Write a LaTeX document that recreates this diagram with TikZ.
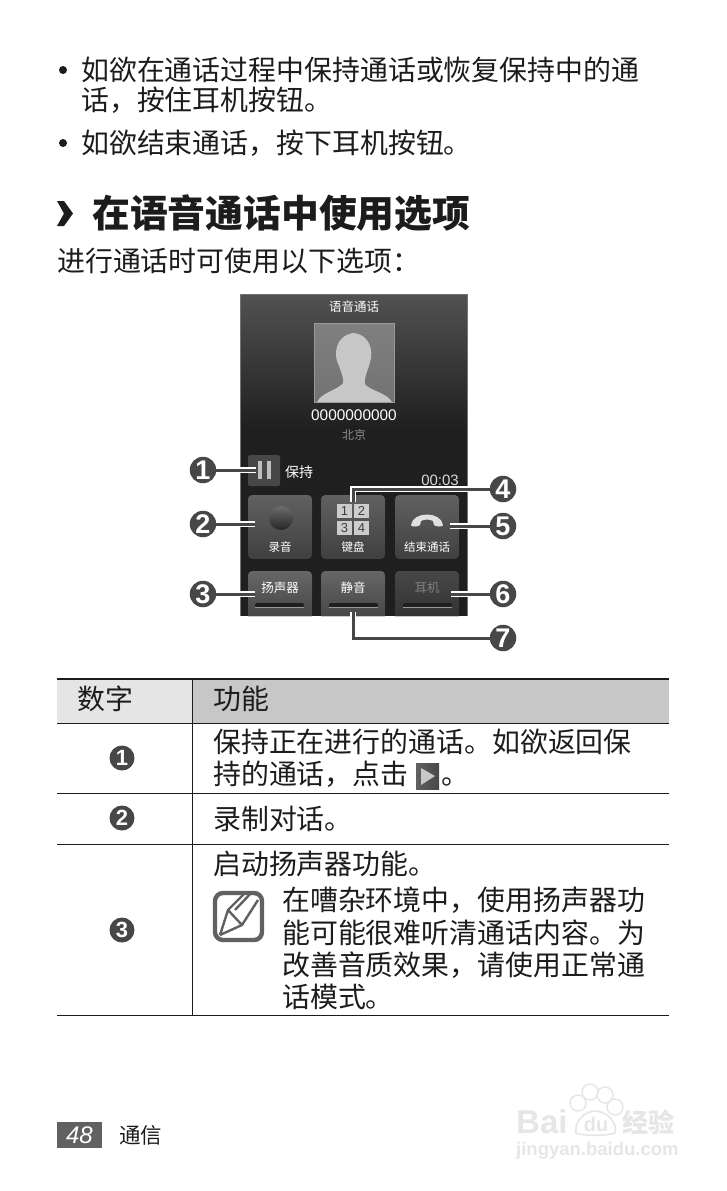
\documentclass[tikz,border=0pt]{standalone}
\usepackage{fontspec}
\setmainfont{Noto Sans CJK SC}
\newfontfamily\latinf{Liberation Sans}
\usetikzlibrary{calc}
\definecolor{numc}{HTML}{474747}
\definecolor{ink}{HTML}{1c1c1c}
\definecolor{wm}{HTML}{E6E6E6}
\newcommand{\fsz}[1]{\fontsize{#1}{#1}\selectfont}
\tikzset{
  x=1pt,y=-1pt,
  body/.style={anchor=west,inner sep=0pt,text=ink,font=\fsz{27.9}},
  num/.style={circle,fill=numc,text=white,inner sep=0pt,minimum size=26.5pt,font=\latinf\bfseries\fsz{27}},
  numsmall/.style={circle,fill=numc,text=white,inner sep=0pt,minimum size=25pt,font=\latinf\bfseries\fsz{22}},
  conn/.style={draw=white,line width=1.3pt,double=numc,double distance=3pt},
  btn/.style={rounded corners=4pt,top color=black!62,bottom color=black!75},
  btnlow/.style={top color=black!60,bottom color=black!72},
  ui/.style={inner sep=0pt,text=white,font=\fsz{11.5}},
  rule/.style={draw=ink,line width=1pt},
  wmtext/.style={inner sep=0pt,text=wm},
  tile/.style={fill=black!20,inner sep=0pt,minimum width=15pt,minimum height=14.5pt,text=black!75,font=\latinf\fsz{13}}
}
\begin{document}
\begin{tikzpicture}
\useasboundingbox (0,0) rectangle (726,1191);
\fill[white] (0,0) rectangle (726,1191);
% bullets
\fill[ink] (63,70) circle (4);
\fill[ink] (63,143) circle (4);
\node[body] (b1) at (81,70) {如欲在通话过程中保持通话或恢复保持中的通};
\node[body] (b2) at (81,100) {话，按住耳机按钮。};
\node[body] (b3) at (81,143) {如欲结束通话，按下耳机按钮。};
% heading
\fill[ink] (57,201) -- (64,201) -- (73,213.5) -- (64,226) -- (57,226) -- (64,213.5) -- cycle;
\node[body,font=\bfseries\fsz{37.8}] (h) at (92,213) {在语音通话中使用选项};
\node[body] (intro) at (57,261) {进行通话时可使用以下选项：};
% phone screen
\fill[top color=black!68,bottom color=black!88] (240,294) rectangle (467,430);
\fill[black!88] (240,430) rectangle (467,616);
\draw[black!55,line width=1pt] (240,616) -- (240,294) -- (467,294) -- (467,616);
\node[ui,font=\fsz{12.5}] (title) at (354,307) {语音通话};
% photo
\shade[top color=black!50,bottom color=black!55,draw=black!40,line width=.4pt] (314,323) rectangle (394,402);
\fill[black!22] (317,402) .. controls (322,392) and (338,390) .. (343,383)
  .. controls (344,378) and (341,372) .. (339,366) .. controls (333,355) and (335,336) .. (353,333)
  .. controls (369,334) and (374,350) .. (370,362) .. controls (368,371) and (364,376) .. (365,384)
  .. controls (370,391) and (386,392) .. (392,402) -- cycle;
\node[ui,font=\latinf\fsz{15.4}] (tel) at (354,415) {0000000000};
\node[ui,text=black!45,font=\fsz{12}] (city) at (354,435) {北京};
% hold
\fill[black!72,rounded corners=2pt] (248,455) rectangle (280,486);
\fill[black!25] (258,461) rectangle (261.5,479);
\fill[black!25] (267,461) rectangle (270.5,479);
\node[ui,font=\fsz{14},anchor=west] (hold) at (285,472) {保持};
\node[ui,font=\latinf\fsz{15},anchor=east,text=black!15] (time) at (459,480) {00:03};
% buttons row 1
\fill[btn] (248,495) rectangle (312,559);
\fill[btn] (321,495) rectangle (385,559);
\fill[btn] (395,495) rectangle (459,559);
\shade[top color=black!58,bottom color=black!85] (281,518) circle (12);
\node[tile] (k1) at (344.5,511) {1};
\node[tile] (k2) at (361.5,511) {2};
\node[tile] (k3) at (344.5,528) {3};
\node[tile] (k4) at (361.5,528) {4};
\fill[black!12] (411,525) .. controls (413,511) and (441,511) .. (443,525) .. controls (443,527) and (436,527) .. (434,525) -- (433,521) .. controls (429,519) and (425,519) .. (421,521) -- (420,525) .. controls (418,527) and (411,527) .. (411,525) -- cycle;
\node[ui] (l1) at (280,547) {录音};
\node[ui] (l2) at (353,547) {键盘};
\node[ui] (l3) at (427,547) {结束通话};
% buttons row 2
\fill[btnlow] (248,616) {[rounded corners=4pt] -- (248,571) -- (312,571)} -- (312,616) -- cycle;
\fill[btnlow] (321,616) {[rounded corners=4pt] -- (321,571) -- (385,571)} -- (385,616) -- cycle;
\fill[top color=black!72,bottom color=black!80] (395,616) {[rounded corners=4pt] -- (395,571) -- (459,571)} -- (459,616) -- cycle;
\node[ui,font=\fsz{12.5}] (l4) at (280,588) {扬声器};
\node[ui,font=\fsz{12.5}] (l5) at (353,588) {静音};
\node[ui,font=\fsz{12.5},text=black!50] (l6) at (427,588) {耳机};
\foreach \a/\b in {255/304,329/378,403/452}{
  \fill[black!88,rounded corners=2pt] (\a,603) rectangle (\b,607.5);
  \draw[black!40,line width=.4pt] (\a,607.5) -- (\b,607.5);
}
% callouts
\node[num] (n1) at (203,470) {1};
\node[num] (n2) at (203,524) {2};
\node[num] (n3) at (203,594) {3};
\node[num] (n4) at (503,489) {4};
\node[num] (n5) at (503,526) {5};
\node[num] (n6) at (503,594) {6};
\node[num] (n7) at (503,638) {7};
\coordinate (t1) at (256,470);
\coordinate (t2) at (255,524);
\coordinate (t3) at (255,594);
\coordinate (t4) at (353,502);
\coordinate (t5) at (450,526);
\coordinate (t6) at (451,594);
\coordinate (t7) at (353,612);
\draw[conn] (n1) -- (t1);
\draw[conn] (n2) -- (t2);
\draw[conn] (n3) -- (t3);
\draw[conn] (n4) -| (t4);
\draw[conn] (n5) -- (t5);
\draw[conn] (n6) -- (t6);
\draw[conn] (n7) -| (t7);
% table
\fill[black!10] (57,680) rectangle (192,723);
\fill[black!22] (192,680) rectangle (669,723);
\draw[draw=ink,line width=2.6pt] (57,679) -- (669,679);
\draw[rule] (57,723) -- (669,723);
\draw[rule] (57,793.5) -- (669,793.5);
\draw[rule] (57,844) -- (669,844);
\draw[rule] (57,1015) -- (669,1015);
\draw[rule] (192,679) -- (192,1015);
\node[body] (th1) at (77,699) {数字};
\node[body] (th2) at (213,699) {功能};
\node[numsmall] (r1) at (122,758) {1};
\node[numsmall] (r2) at (122,818) {2};
\node[numsmall] (r3) at (122,930) {3};
\node[body] (c1a) at (213,742) {保持正在进行的通话。如欲返回保};
\node[body] (c1b) at (213,774) {持的通话，点击};
\shade[left color=black!62,right color=black!72] (416,763) rectangle (439,789);
\fill[black!22] (421,768) -- (435,776) -- (421,785) -- cycle;
\node[body,anchor=base west] (c1c) at (441,784.5) {。};
\node[body] (c2) at (213,819) {录制对话。};
\node[body] (c3) at (213,864) {启动扬声器功能。};
% note icon
\draw[black!62,line width=4.4pt,rounded corners=8pt] (215,893) rectangle (262,940);
\draw[black!62,line width=2.4pt,line join=round] (220,935) -- (228,910) -- (245,893) (220,935) -- (242,925) -- (258,900) (228,910) -- (242,925) (235,910) -- (252,892);
\node[body] (n1a) at (282,900) {在嘈杂环境中，使用扬声器功};
\node[body] (n1b) at (282,933) {能可能很难听清通话内容。为};
\node[body] (n1c) at (282,965) {改善音质效果，请使用正常通};
\node[body] (n1d) at (282,997) {话模式。};
% footer
\fill[black!62] (57,1122) rectangle (102,1148);
\node[inner sep=0pt,text=white,font=\latinf\itshape\fsz{24}] (pg) at (79.5,1135) {48};
\node[body,font=\fsz{21.5}] (sec) at (119,1135) {通信};
% watermark
\foreach \p/\r/\s in {578/1103/8,590/1092/8,605/1095/8,615/1107/8}{
  \draw[wm,line width=1.4pt] (\p,\r) circle (\s);
}
\draw[wm,line width=1.6pt] (576,1133) .. controls (574,1120) and (586,1111) .. (595,1111) .. controls (606,1111) and (618,1122) .. (615,1133) .. controls (608,1136) and (582,1136) .. (576,1133) -- cycle;
\node[wmtext,font=\latinf\bfseries\fsz{33},anchor=west] (wm1) at (516,1122) {Bai};
\node[wmtext,font=\latinf\bfseries\fsz{20}] (wm2) at (596,1124) {du};
\node[wmtext,font=\bfseries\fsz{26},anchor=west] (wm3) at (622,1122) {经验};
\node[wmtext,font=\latinf\bfseries\fsz{18.5},anchor=west] (wm4) at (516,1151) {jingyan.baidu.com};
\end{tikzpicture}
\end{document}
